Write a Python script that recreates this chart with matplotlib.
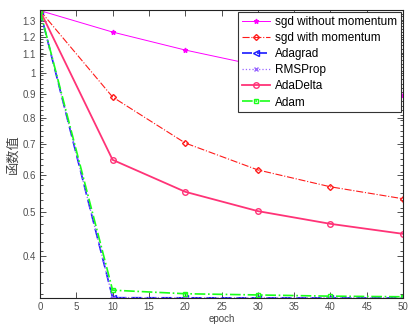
import numpy as np
import matplotlib.pyplot as plt
from matplotlib.ticker import FixedLocator, FixedFormatter, NullFormatter

plt.rcParams['font.family'] = ['Liberation Sans', 'Noto Sans CJK SC', 'DejaVu Sans']

epochs = [0, 10, 20, 30, 40, 50]
sgd = [1.37, 1.23, 1.124, 1.04, 0.965, 0.897]
sgd_momentum = [1.37, 0.888, 0.705, 0.616, 0.566, 0.533]
adagrad = [1.37, 0.3245, 0.3243, 0.3242, 0.3241, 0.324]
rmsprop = [1.37, 0.3247, 0.3245, 0.3243, 0.3242, 0.3241]
adadelta = [1.37, 0.648, 0.552, 0.501, 0.470, 0.447]
adam = [1.37, 0.337, 0.331, 0.329, 0.327, 0.326]

ytick_vals = [0.4, 0.5, 0.6, 0.7, 0.8, 0.9, 1, 1.1, 1.2, 1.3]
ytick_labels = ['0.4', '0.5', '0.6', '0.7', '0.8', '0.9', '1', '1.1', '1.2', '1.3']

fig = plt.figure(figsize=(4.08, 3.25), dpi=100)
ax = fig.add_axes([40 / 408, 1 - 298 / 325, 363 / 408, 288 / 325])

ax.plot(epochs, sgd, color='#ff00ff', lw=0.7, marker='*', ms=3.5, label='sgd without momentum')
ax.plot(epochs, sgd_momentum, color='#ff1a1a', lw=0.8, ls='-.', marker='D', ms=3,
        mfc='none', label='sgd with momentum')
ax.plot(epochs, adagrad, color='#1a1aff', lw=1.2, ls=(0, (6, 3)), marker='<', ms=4,
        mfc='none', label='Adagrad')
ax.plot(epochs, rmsprop, color='#9966ff', lw=0.9, ls=':', marker='x', ms=2.5, label='RMSProp')
ax.plot(epochs, adadelta, color='#ff3377', lw=1.3, marker='o', ms=4, mfc='none',
        label='AdaDelta')
ax.plot(epochs, adam, color='#1aff1a', lw=1.2, ls='-.', marker='s', ms=3, mfc='none',
        label='Adam')

ax.set_yscale('log')
ax.set_xlim(0, 50)
ax.set_ylim(0.324, 1.374)
ax.set_xticks(np.arange(0, 51, 5))
ax.yaxis.set_major_locator(FixedLocator(ytick_vals))
ax.yaxis.set_major_formatter(FixedFormatter(ytick_labels))
ax.yaxis.set_minor_locator(FixedLocator(np.arange(0.33, 1.37, 0.02)))
ax.yaxis.set_minor_formatter(NullFormatter())

ax.tick_params(which='both', direction='in', top=True, right=True, labelsize=7,
               colors='#333333', labelcolor='#505050', width=0.6, pad=3)
ax.tick_params(which='major', length=4)
ax.tick_params(which='minor', length=2)
for s in ax.spines.values():
    s.set_color('#222222')
    s.set_linewidth(0.8)

ax.set_xlabel('epoch', fontsize=7, color='#444444', labelpad=1)
ax.set_ylabel('函数值', fontsize=9.5, color='#444444', labelpad=2,
              family=['Noto Sans CJK SC', 'DejaVu Sans'])

leg = ax.legend(loc='upper right', fontsize=8.5, frameon=True, fancybox=False,
                handlelength=2.4, borderpad=0.3, labelspacing=0.35,
                handletextpad=0.4, borderaxespad=0.2)
leg.get_frame().set_edgecolor('#333333')
leg.get_frame().set_linewidth(0.8)
leg.get_frame().set_alpha(1)

fig.savefig('out.png', dpi=100)
